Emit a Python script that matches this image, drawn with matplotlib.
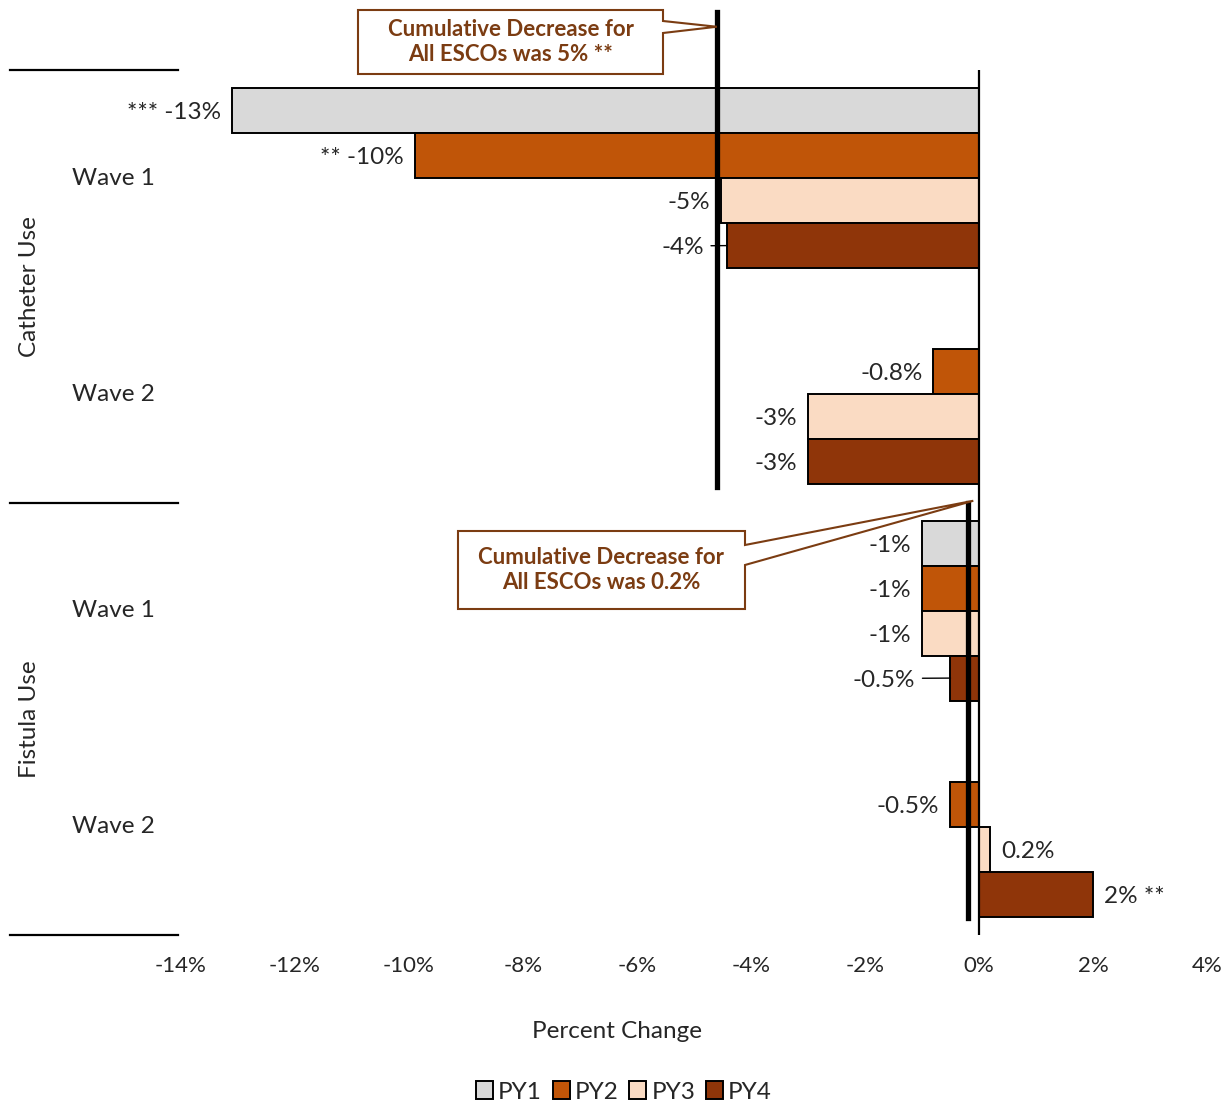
import numpy as np
import matplotlib
matplotlib.use("Agg")
import matplotlib.pyplot as plt
from matplotlib.patches import Polygon
from matplotlib.transforms import blended_transform_factory

plt.rcParams['font.family'] = ['Lato', 'DejaVu Sans']

# ---- data -------------------------------------------------------------
measures = ["Catheter Use", "Fistula Use"]
waves = ["Wave 1", "Wave 2", "Wave 1", "Wave 2"]
series = ["PY1", "PY2", "PY3", "PY4"]
py1 = [-13.1, np.nan, -1.0, np.nan]
py2 = [-9.9, -0.8, -1.0, -0.5]
py3 = [-4.53, -3.0, -1.0, 0.2]
py4 = [-4.42, -3.0, -0.5, 2.0]
# significance markers keyed by (series index, row index)
stars = {(0, 0): "***", (1, 0): "**", (3, 3): "**"}
cumulative = [-4.6, -0.2]
cum_stars = [" **", ""]
xticks = list(range(-14, 5, 2))

# ---- style ------------------------------------------------------------
colors = ["#D9D9D9", "#C05508", "#FADBC3", "#8F3509"]
note_color = "#7B3C12"
text_color = "#262626"
label_fs = 17.5
tick_fs = 16
word_fs = 17.5
note_fs = 16

W, H = 1228, 1104
fig = plt.figure(figsize=(W / 100, H / 100), dpi=100)


def fx(px):
    return px / W


def fy(py):
    return 1 - py / H


ax = fig.add_axes([fx(181), fy(935), fx(1207) - fx(181), fy(70) - fy(935)])
ax.set_xlim(-14, 4)
ax.set_ylim(3.5, -0.5)

values = [py1, py2, py3, py4]
rows = np.arange(len(waves))
bar_h = 0.208

handles = []
for i, (vals, c, name) in enumerate(zip(values, colors, series)):
    ypos = rows + (i - 1.5) * bar_h
    h = ax.barh(ypos, vals, height=bar_h, color=c, edgecolor="black",
                linewidth=1.4, label=name, zorder=2)
    handles.append(h)

# value labels; a few are pushed out and tied back with a leader line
leader = {(3, 0): 12, (3, 2): 24}
for i, vals in enumerate(values):
    for r, v in enumerate(vals):
        if np.isnan(v):
            continue
        txt = f"{v:.1f}%" if abs(v) < 1 else f"{v:.0f}%"
        s = stars.get((i, r))
        y = r + (i - 1.5) * bar_h
        if v < 0:
            txt = f"{s} {txt}" if s else txt
            ha, sign, rel = "right", -1, (1.0, 0.59)
        else:
            txt = f"{txt} {s}" if s else txt
            ha, sign, rel = "left", 1, (0.0, 0.59)
        extra = leader.get((i, r), 0)
        off = sign * (11 + extra) * 0.72
        arrow = None
        if extra:
            arrow = dict(arrowstyle="-", color="black", lw=1.0,
                         shrinkA=3, shrinkB=0, relpos=rel)
        ax.annotate(txt, xy=(v, y), xytext=(off, -1.5), textcoords="offset points",
                    ha=ha, va="center", fontsize=label_fs, color=text_color,
                    arrowprops=arrow, zorder=5)

# zero axis line
ax.axvline(0, color="black", lw=1.6, zorder=3)

# cumulative change lines
ax.axvline(cumulative[0], ymin=0.518, ymax=1.067, color="black", lw=3.8,
           clip_on=False, zorder=4)
ax.axvline(cumulative[1], ymin=0.020, ymax=0.5, color="black", lw=3.8,
           clip_on=False, zorder=4)

for sp in ax.spines.values():
    sp.set_visible(False)
ax.set_xticks(xticks)
ax.set_xticklabels([f"{t}%" for t in xticks], fontsize=tick_fs, color=text_color)
ax.tick_params(axis="x", length=0, pad=15)
ax.set_yticks([])

# two-level category axis on the left
bt = blended_transform_factory(fig.transFigure, ax.transData)
for yb in (-0.5, 1.5, 3.5):
    ax.plot([fx(10), fx(178)], [yb, yb], transform=bt, color="black", lw=1.6,
            clip_on=False)
for r, w in enumerate(waves):
    ax.text(fx(113), r, w, transform=bt, ha="center", va="center",
            fontsize=word_fs, color=text_color)
for k, m in enumerate(measures):
    ax.text(fx(30), 2 * k + 0.5, m, transform=bt, ha="center", va="center",
            rotation=90, fontsize=word_fs, color=text_color)

fig.text(fx(617), fy(1031), "Percent Change", ha="center", va="center",
         fontsize=word_fs, color=text_color)

# callout notes
fig.canvas.draw()
to_fig = fig.transFigure.inverted()
line_tr = blended_transform_factory(ax.transData, ax.transAxes)


def callout(box, base, tip_axes, text):
    x0, y0, x1, y1 = box
    tip = to_fig.transform(line_tr.transform(tip_axes))
    pts = [(fx(x0), fy(y0)), (fx(x1), fy(y0)), (fx(x1), fy(base[0])),
           tuple(tip), (fx(x1), fy(base[1])), (fx(x1), fy(y1)),
           (fx(x0), fy(y1))]
    fig.add_artist(Polygon(pts, closed=True, facecolor="white",
                           edgecolor=note_color, lw=1.5, zorder=6))
    fig.text(fx((x0 + x1) / 2), fy((y0 + y1) / 2), text, ha="center",
             va="center", fontsize=note_fs, fontweight="bold",
             color=note_color, linespacing=1.2, zorder=7)


callout((358, 10, 663, 74), (21, 33), (cumulative[0], 1.05),
        f"Cumulative Decrease for\nAll ESCOs was {abs(cumulative[0]):.0f}%{cum_stars[0]}")
callout((458, 531, 745, 609), (545, 565), (cumulative[1] + 0.1, 0.502),
        f"Cumulative Decrease for\nAll ESCOs was {abs(cumulative[1]):.1f}%{cum_stars[1]}")

fig.legend(handles=handles, labels=series, loc="center",
           bbox_to_anchor=(fx(624), fy(1092)), ncol=4, frameon=False,
           handlelength=0.7, handleheight=0.7, handletextpad=0.2,
           columnspacing=0.45, fontsize=word_fs, labelcolor=text_color)

fig.savefig("out.png", dpi=100)
